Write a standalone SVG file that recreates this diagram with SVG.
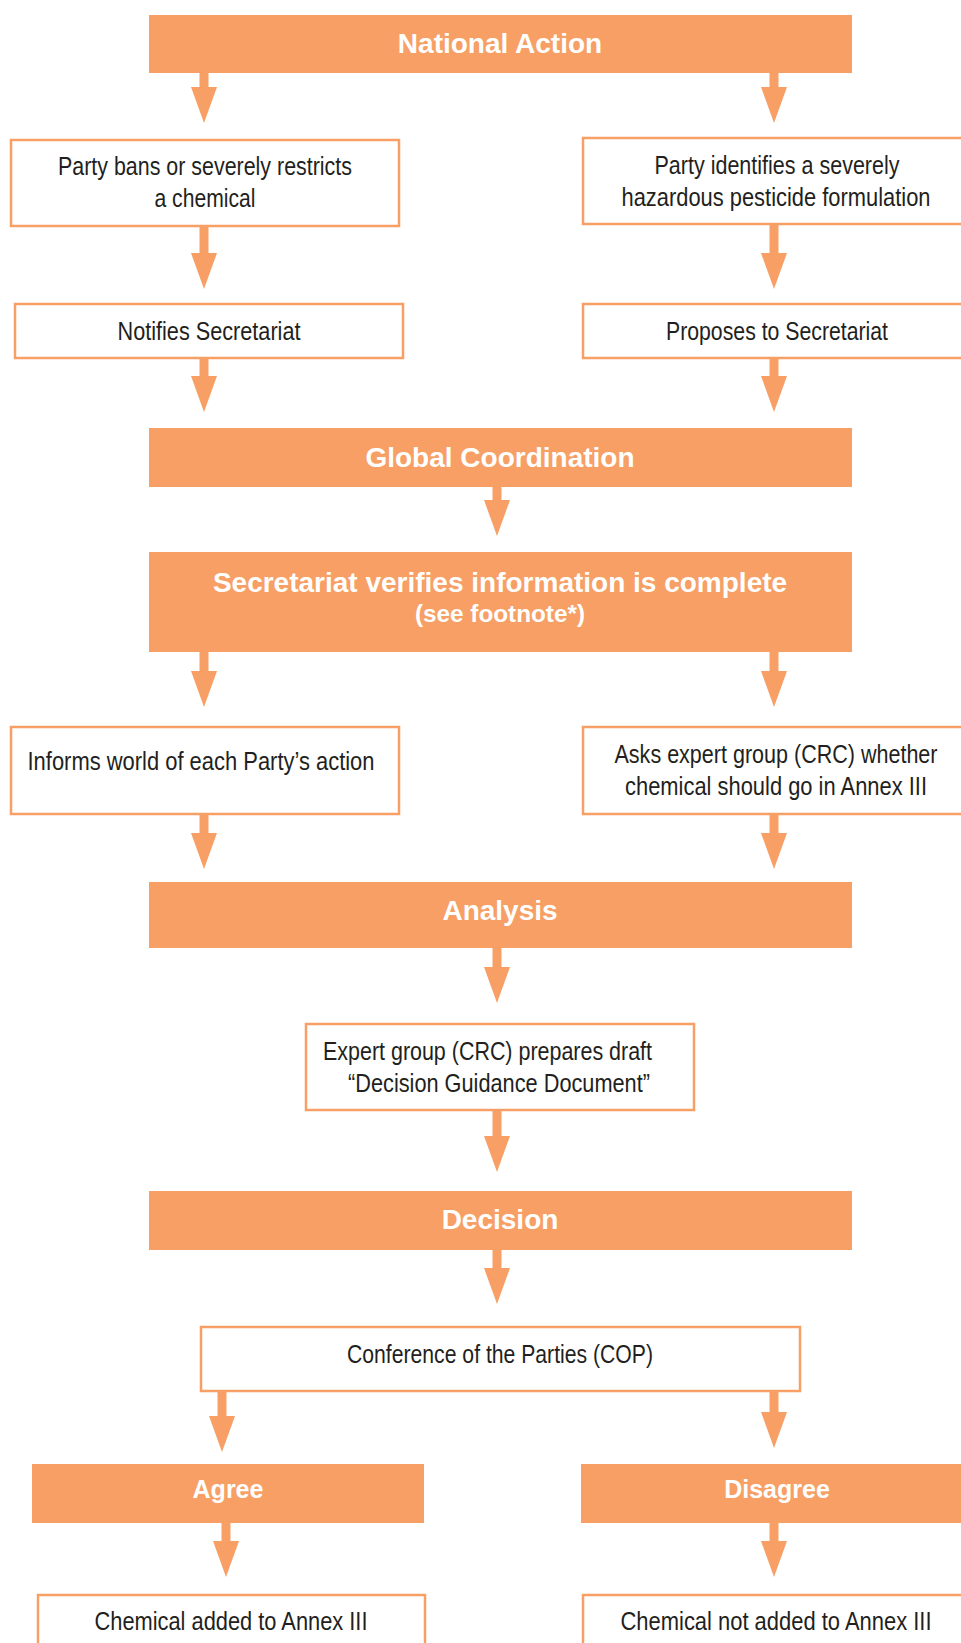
<svg xmlns="http://www.w3.org/2000/svg" width="961" height="1643" viewBox="0 0 961 1643">
<style>
.bar{fill:#F79F64}
.box{fill:#ffffff;stroke:#F79F64;stroke-width:2.5}
.h{font-family:"Liberation Sans",Arial,sans-serif;font-weight:bold;fill:#ffffff;text-anchor:middle}
.t{font-family:"Liberation Sans",Arial,sans-serif;font-size:25px;fill:#231F20;text-anchor:middle}
.c{stroke:#F79F64;stroke-width:9;fill:none;marker-end:url(#ah)}
</style>
<defs>
<marker id="ah" markerUnits="userSpaceOnUse" viewBox="0 -13 36 26" refX="0" refY="0" markerWidth="36" markerHeight="26" orient="auto">
<path d="M0,-13 L36,0 L0,13 Z" fill="#F79F64"/>
</marker>
</defs>
<rect width="961" height="1643" fill="#ffffff"/>
<g id="connectors">
<line class="c" x1="204" y1="73" x2="204" y2="87"/>
<line class="c" x1="774" y1="73" x2="774" y2="87"/>
<line class="c" x1="204" y1="227" x2="204" y2="253"/>
<line class="c" x1="774" y1="225" x2="774" y2="253"/>
<line class="c" x1="204" y1="359" x2="204" y2="376"/>
<line class="c" x1="774" y1="359" x2="774" y2="376"/>
<line class="c" x1="497" y1="487" x2="497" y2="500"/>
<line class="c" x1="204" y1="652" x2="204" y2="671"/>
<line class="c" x1="774" y1="652" x2="774" y2="671"/>
<line class="c" x1="204" y1="815" x2="204" y2="833"/>
<line class="c" x1="774" y1="815" x2="774" y2="833"/>
<line class="c" x1="497" y1="948" x2="497" y2="967"/>
<line class="c" x1="497" y1="1111" x2="497" y2="1136"/>
<line class="c" x1="497" y1="1250" x2="497" y2="1268"/>
<line class="c" x1="222" y1="1392" x2="222" y2="1416"/>
<line class="c" x1="774" y1="1392" x2="774" y2="1412"/>
<line class="c" x1="226" y1="1523" x2="226" y2="1541"/>
<line class="c" x1="774" y1="1523" x2="774" y2="1541"/>
</g>
<g id="national-action">
<rect class="bar" x="149" y="15" width="703" height="58"/>
<text class="h" x="500" y="53" font-size="28">National Action</text>
</g>
<g id="party-bans">
<rect class="box" x="11" y="140" width="388" height="86"/>
<text class="t" x="205" y="175" textLength="294" lengthAdjust="spacingAndGlyphs">Party bans or severely restricts</text>
<text class="t" x="205" y="207" textLength="101" lengthAdjust="spacingAndGlyphs">a chemical</text>
</g>
<g id="party-identifies">
<rect class="box" x="583" y="138" width="390" height="86"/>
<text class="t" x="777" y="174" textLength="245" lengthAdjust="spacingAndGlyphs">Party identifies a severely</text>
<text class="t" x="776" y="206" textLength="309" lengthAdjust="spacingAndGlyphs">hazardous pesticide formulation</text>
</g>
<g id="notifies">
<rect class="box" x="15" y="304" width="388" height="54"/>
<text class="t" x="209" y="340" textLength="183" lengthAdjust="spacingAndGlyphs">Notifies Secretariat</text>
</g>
<g id="proposes">
<rect class="box" x="583" y="304" width="390" height="54"/>
<text class="t" x="777" y="340" textLength="222" lengthAdjust="spacingAndGlyphs">Proposes to Secretariat</text>
</g>
<g id="global-coordination">
<rect class="bar" x="149" y="428" width="703" height="59"/>
<text class="h" x="500" y="467" font-size="28">Global Coordination</text>
</g>
<g id="secretariat-verifies">
<rect class="bar" x="149" y="552" width="703" height="100"/>
<text class="h" x="500" y="592" font-size="28">Secretariat verifies information is complete</text>
<text class="h" x="500" y="622" font-size="23" textLength="170" lengthAdjust="spacingAndGlyphs">(see footnote*)</text>
</g>
<g id="informs-world">
<rect class="box" x="11" y="727" width="388" height="87"/>
<text class="t" x="201" y="770" textLength="347" lengthAdjust="spacingAndGlyphs">Informs world of each Party’s action</text>
</g>
<g id="asks-expert">
<rect class="box" x="583" y="727" width="390" height="87"/>
<text class="t" x="776" y="763" textLength="323" lengthAdjust="spacingAndGlyphs">Asks expert group (CRC) whether</text>
<text class="t" x="776" y="795" textLength="302" lengthAdjust="spacingAndGlyphs">chemical should go in Annex III</text>
</g>
<g id="analysis">
<rect class="bar" x="149" y="882" width="703" height="66"/>
<text class="h" x="500" y="920" font-size="28">Analysis</text>
</g>
<g id="expert-group">
<rect class="box" x="306" y="1024" width="388" height="86"/>
<text class="t" x="487.5" y="1060" textLength="329" lengthAdjust="spacingAndGlyphs">Expert group (CRC) prepares draft</text>
<text class="t" x="499" y="1092" textLength="302" lengthAdjust="spacingAndGlyphs">“Decision Guidance Document”</text>
</g>
<g id="decision">
<rect class="bar" x="149" y="1191" width="703" height="59"/>
<text class="h" x="500" y="1229" font-size="28">Decision</text>
</g>
<g id="cop">
<rect class="box" x="201" y="1327" width="599" height="64"/>
<text class="t" x="500" y="1363" textLength="306" lengthAdjust="spacingAndGlyphs">Conference of the Parties (COP)</text>
</g>
<g id="agree">
<rect class="bar" x="32" y="1464" width="392" height="59"/>
<text class="h" x="228" y="1498" font-size="25">Agree</text>
</g>
<g id="disagree">
<rect class="bar" x="581" y="1464" width="390" height="59"/>
<text class="h" x="777" y="1498" font-size="25">Disagree</text>
</g>
<g id="chemical-added">
<rect class="box" x="38" y="1595" width="387" height="80"/>
<text class="t" x="231" y="1630" textLength="273" lengthAdjust="spacingAndGlyphs">Chemical added to Annex III</text>
</g>
<g id="chemical-not-added">
<rect class="box" x="583" y="1595" width="390" height="80"/>
<text class="t" x="776" y="1630" textLength="311" lengthAdjust="spacingAndGlyphs">Chemical not added to Annex III</text>
</g>
</svg>
